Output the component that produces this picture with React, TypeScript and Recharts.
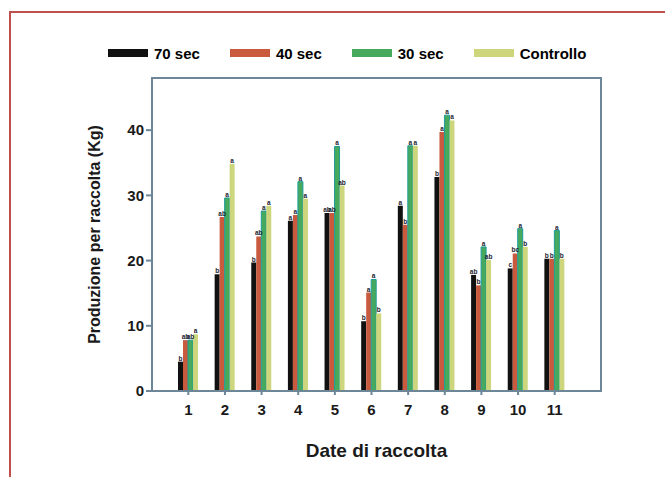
// produzione per raccolta - barre raggruppate
import React from 'react'
import {
  BarChart, Bar, XAxis, YAxis, Legend, LabelList, Label
} from 'recharts'

const dates = ['1', '2', '3', '4', '5', '6', '7', '8', '9', '10', '11']
const sec70 = [4.5, 17.9, 19.7, 26.1, 27.3, 10.7, 28.4, 32.8, 17.8, 18.8, 20.3]
const sec40 = [7.8, 26.7, 23.7, 27.0, 27.3, 15.1, 25.5, 39.7, 16.2, 21.1, 20.3]
const sec30 = [7.8, 29.6, 27.6, 32.1, 37.5, 17.1, 37.6, 42.3, 22.1, 24.9, 24.6]
const controllo = [8.7, 34.8, 28.4, 29.5, 31.5, 11.9, 37.6, 41.5, 20.1, 22.1, 20.3]

// lettere di significatività
const let70 = ['b', 'b', 'b', 'a', 'ab', 'b', 'a', 'b', 'ab', 'c', 'b']
const let40 = ['ab', 'ab', 'ab', 'a', 'ab', 'a', 'b', 'a', 'b', 'bc', 'b']
const let30 = ['ab', 'a', 'a', 'a', 'a', 'a', 'a', 'a', 'a', 'a', 'a']
const letCtrl = ['a', 'a', 'a', 'a', 'ab', 'b', 'a', 'a', 'ab', 'b', 'b']

const seriesNames = ['70 sec', '40 sec', '30 sec', 'Controllo']
const yTicks = [0, 10, 20, 30, 40]

const data = dates.map((d, i) => ({
  date: d,
  s70: sec70[i], s40: sec40[i], s30: sec30[i], ctrl: controllo[i],
  l70: let70[i], l40: let40[i], l30: let30[i], lctrl: letCtrl[i]
}))

const font = "'Liberation Sans', Arial, sans-serif"
const axisColor = '#6d8799'

const renderLegend = (props: any) => {
  const items = [...props.payload].sort(
    (a: any, b: any) => seriesNames.indexOf(a.value) - seriesNames.indexOf(b.value)
  )
  return (
    <div style={{ display: 'flex', alignItems: 'center', height: 18, fontFamily: font, fontWeight: 'bold', fontSize: 15 }}>
      {items.map((p: any) => (
        <div key={p.value} style={{ display: 'flex', alignItems: 'center', marginRight: 30 }}>
          <div style={{ width: 40, height: 8, background: p.color, marginRight: 6 }} />
          <span>{p.value}</span>
        </div>
      ))}
    </div>
  )
}

const labelStyle = { fontSize: 6.5, fontWeight: 'bold', fill: '#1a2430', fontFamily: font }

export default function App() {
  return (
    <div style={{ position: 'absolute', left: 0, top: 0, width: 665, height: 477, background: '#fff' }}>
      <div style={{
        position: 'absolute', left: 9, top: 11, width: 656, height: 466,
        borderTop: '2px solid #c0504d', borderLeft: '2px solid #c0504d'
      }} />
      <div style={{ position: 'absolute', left: 0, top: 0 }}>
        <BarChart
          width={665}
          height={477}
          data={data}
          margin={{ top: 60, right: 64, left: 92, bottom: 46 }}
          barSize={5}
          barGap={0}
        >
          <XAxis
            dataKey="date"
            padding={{ left: 18, right: 28 }}
            stroke={axisColor}
            strokeWidth={2}
            height={40}
            tickSize={4}
            tickMargin={9}
            tick={{ fill: '#1a1a1a', fontSize: 15, fontWeight: 'bold', fontFamily: font }}
          >
            <Label value="Date di raccolta" position="insideBottom" offset={-26}
              style={{ fill: '#1a1a1a', fontSize: 19, fontWeight: 'bold', fontFamily: font }} />
          </XAxis>
          <YAxis
            domain={[0, 48]}
            ticks={yTicks}
            width={60}
            stroke={axisColor}
            strokeWidth={2}
            tickSize={6}
            tick={{ fill: '#1a1a1a', fontSize: 15, fontWeight: 'bold', fontFamily: font }}
          >
            <Label value="Produzione per raccolta (Kg)" angle={-90} position="insideLeft" offset={2}
              style={{ textAnchor: 'middle', fill: '#1a1a1a', fontSize: 16, fontWeight: 'bold', fontFamily: font }} />
          </YAxis>
          <Legend verticalAlign="top" align="left" content={renderLegend}
            wrapperStyle={{ top: 44, left: 108 }} />
          <Bar dataKey="s70" name="70 sec" fill="#111111" isAnimationActive={false}>
            <LabelList dataKey="l70" position="top" offset={1} style={labelStyle} />
          </Bar>
          <Bar dataKey="s40" name="40 sec" fill="#c95a3e" isAnimationActive={false}>
            <LabelList dataKey="l40" position="top" offset={1} style={labelStyle} />
          </Bar>
          <Bar dataKey="s30" name="30 sec" fill="#47a95c" stroke="#1f9c9c" strokeWidth={1} isAnimationActive={false}>
            <LabelList dataKey="l30" position="top" offset={1} style={labelStyle} />
          </Bar>
          <Bar dataKey="ctrl" name="Controllo" fill="#cdd67c" isAnimationActive={false}>
            <LabelList dataKey="lctrl" position="top" offset={1} style={labelStyle} />
          </Bar>
        </BarChart>
      </div>
      {/* cornice del grafico */}
      <div style={{
        position: 'absolute', left: 151, top: 77, width: 451, height: 315,
        boxSizing: 'border-box', border: `2px solid ${axisColor}`, pointerEvents: 'none'
      }} />
    </div>
  )
}
